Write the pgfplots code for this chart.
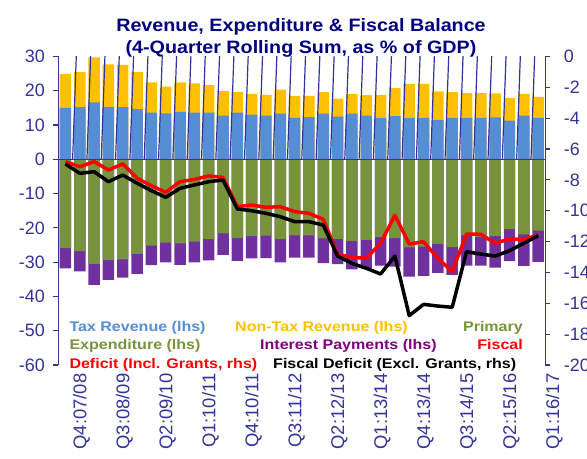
\documentclass[border=0pt]{standalone}
\usepackage{fontspec}
\setmainfont{Liberation Sans}
\newfontfamily\titlefont[FakeStretch=1.1]{Liberation Sans}
\newfontfamily\legfont[FakeStretch=1.15]{Liberation Sans}
\usepackage{pgfplots}
\usepackage{pgfplotstable}
\pgfplotsset{compat=1.18}
\definecolor{axisblue}{RGB}{51,51,153}
\definecolor{titleblue}{RGB}{0,0,128}
\definecolor{taxblue}{RGB}{85,142,213}
\definecolor{ntyellow}{RGB}{255,192,0}
\definecolor{expgreen}{RGB}{119,147,60}
\definecolor{intpurple}{RGB}{112,48,160}
\definecolor{intlegend}{RGB}{128,0,128}

% tax = tax revenue; rev = total revenue (tax + non-tax);
% prim = -primary expenditure; exp = -(primary + interest)
\pgfplotstableread{
x tax rev prim exp
0 15.0 24.9 -25.9 -31.8
1 15.2 25.4 -26.8 -32.7
2 16.6 29.7 -30.5 -36.6
3 15.3 27.7 -29.4 -35.2
4 15.2 27.5 -29.2 -34.5
5 14.6 25.4 -27.6 -33.4
6 13.6 22.4 -25.2 -30.9
7 13.4 21.2 -24.3 -30.1
8 13.8 22.4 -24.5 -30.8
9 13.6 22.1 -24.0 -30.1
10 13.6 21.6 -23.2 -29.5
11 12.7 19.9 -21.6 -27.9
12 13.6 19.6 -23.0 -29.6
13 13.0 19.1 -22.4 -28.9
14 12.7 18.8 -22.3 -28.8
15 13.3 20.3 -23.3 -30.1
16 12.1 18.5 -22.2 -28.7
17 12.3 18.5 -22.2 -28.7
18 13.3 19.6 -23.1 -30.3
19 12.4 17.7 -23.2 -30.6
20 13.3 19.0 -23.8 -32.1
21 12.7 18.7 -23.5 -31.8
22 12.0 18.8 -22.7 -31.0
23 12.6 20.8 -23.0 -31.3
24 12.0 22.0 -25.7 -34.2
25 12.1 22.0 -25.5 -34.0
26 11.5 19.8 -24.7 -33.1
27 12.1 19.6 -25.6 -33.7
28 12.1 19.3 -22.2 -31.0
29 12.1 19.3 -22.7 -31.0
30 12.2 19.2 -22.4 -31.6
31 11.3 17.9 -20.4 -29.7
32 12.7 19.1 -21.9 -31.1
33 12.1 18.2 -20.8 -29.9
}\barsdata

\pgfplotstableread{
x incl excl
0 -6.82 -6.97
1 -7.15 -7.58
2 -6.82 -7.47
3 -7.36 -8.12
4 -6.97 -7.69
5 -7.90 -8.22
6 -8.38 -8.70
7 -8.81 -9.13
8 -8.12 -8.55
9 -7.97 -8.33
10 -7.75 -8.12
11 -7.84 -8.01
12 -9.74 -9.89
13 -9.63 -10.00
14 -9.78 -10.17
15 -9.74 -10.39
16 -10.06 -10.71
17 -10.17 -10.71
18 -10.56 -10.93
19 -12.83 -12.94
20 -13.02 -13.41
21 -13.09 -13.73
22 -12.11 -14.10
23 -10.30 -12.94
24 -12.16 -16.80
25 -12.01 -16.07
26 -13.09 -16.18
27 -13.95 -16.26
28 -11.51 -12.66
29 -11.53 -12.81
30 -12.11 -12.94
31 -11.83 -12.59
32 -11.86 -12.11
33 -11.57 -11.62
}\linesdata

\begin{document}
\begin{tikzpicture}
\pgfplotsset{
  common/.style={
    at={(58.3bp,-56.4bp)}, anchor=north west,
    width=487bp, height=308.6bp, scale only axis,
    xmin=-0.5, xmax=33.5,
    axis line style={-, draw=axisblue, line width=1.2bp},
    tick align=outside, major tick length=5bp,
    ytick style={draw=axisblue, line width=1.2bp},
    /pgf/number format/assume math mode=true,
    yticklabel style={font=\fontsize{18}{20}\selectfont, text=axisblue},
  }
}
\begin{axis}[common,
  ymin=-60, ymax=30,
  axis y line*=left, axis x line=none,
  xtick=\empty,
  ytick={-60,-50,...,30},
  yticklabel style={xshift=-5bp},
  ybar, bar width=0.8,
]
\addplot[fill=ntyellow, draw=none, bar shift=0pt] table[x=x,y=rev]{\barsdata};
\addplot[fill=taxblue, draw=none, bar shift=0pt] table[x=x,y=tax]{\barsdata};
\addplot[fill=intpurple, draw=none, bar shift=0pt] table[x=x,y=exp]{\barsdata};
\addplot[fill=expgreen, draw=none, bar shift=0pt] table[x=x,y=prim]{\barsdata};
\draw[axisblue, line width=1.2bp] (axis cs:-0.5,0) -- (axis cs:33.5,0);
\pgfplotsinvokeforeach{0,...,32}{\draw[axisblue, line width=1.2bp] (axis cs:#1.5,0) -- ++(0,-5bp);}
\end{axis}
\begin{axis}[common,
  ymin=-20, ymax=0,
  axis y line*=right, axis x line*=bottom,
  x axis line style={draw=none},
  xtick={0,3,...,33},
  xticklabels={Q4:07/08,Q3:08/09,Q2:09/10,Q1:10/11,Q4:10/11,Q3:11/12,Q2:12/13,Q1:13/14,Q4:13/14,Q3:14/15,Q2:15/16,Q1:16/17},
  xtick style={draw=none},
  xticklabel style={rotate=90, anchor=east, font=\fontsize{18.5}{20}\selectfont, text=axisblue, yshift=-16bp},
  ytick={-20,-18,...,0},
  yticklabel style={xshift=10bp},
]
\addplot[red, line width=3.5bp, line join=round] table[x=x,y=incl]{\linesdata};
\addplot[black, line width=3.5bp, line join=round] table[x=x,y=excl]{\linesdata};
\end{axis}

\node[font=\titlefont\fontsize{18}{22}\selectfont\bfseries, text=titleblue, align=center] at (301bp,-38bp) {Revenue, Expenditure \& Fiscal Balance\\(4-Quarter Rolling Sum, as \% of GDP)};

\begin{scope}[every node/.style={font=\legfont\fontsize{14}{16}\selectfont\bfseries, inner sep=0pt}]
\node[anchor=base west, text=taxblue] at (69.3bp,-331.7bp) {Tax Revenue (lhs)};
\node[anchor=base west, text=ntyellow] at (235bp,-331.7bp) {Non-Tax Revenue (lhs)};
\node[anchor=base east, text=expgreen] at (523bp,-331.7bp) {Primary};
\node[anchor=base west, text=expgreen] at (69.3bp,-349.7bp) {Expenditure (lhs)};
\node[anchor=base west, text=intlegend] at (260bp,-349.7bp) {Interest Payments (lhs)};
\node[anchor=base east, text=red] at (523bp,-349.7bp) {Fiscal};
\node[anchor=base west, text=red] at (69.3bp,-368bp) {Deficit (Incl. Grants, rhs)};
\node[anchor=base west, text=black] at (273bp,-368bp) {Fiscal Deficit (Excl. Grants, rhs)};
\end{scope}

\pgfresetboundingbox
\path[use as bounding box] (0,0) rectangle (587bp,-459bp);
\end{tikzpicture}
\end{document}
